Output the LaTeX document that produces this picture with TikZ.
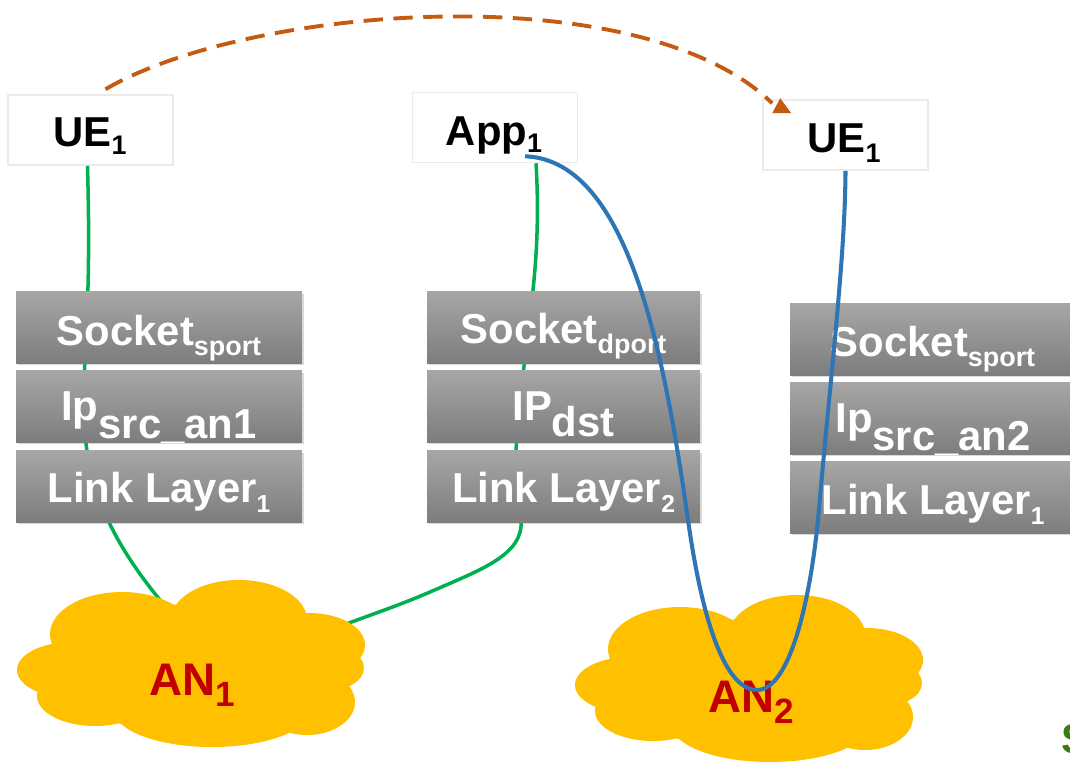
\documentclass[tikz,border=0pt]{standalone}
\usepackage{fontspec}
\setmainfont{Liberation Sans}
\usetikzlibrary{calc,shadows}
\definecolor{gtop}{HTML}{A6A6A6}
\definecolor{gbot}{HTML}{7D7D7D}
\definecolor{cloudc}{HTML}{FFC000}
\definecolor{anred}{HTML}{C00000}
\definecolor{lgreen}{HTML}{00B050}
\definecolor{lblue}{HTML}{2E75B6}
\definecolor{dorange}{HTML}{C55A11}
\definecolor{boxline}{HTML}{EBEBEB}
\definecolor{sgreen}{HTML}{3D7A14}
\newcommand{\mybig}{\fontsize{23.8}{28}\selectfont\bfseries}
\newcommand{\mysubA}{\fontsize{15.3}{16}\selectfont}
\newcommand{\myone}{\fontsize{14}{15}\selectfont}
\newcommand{\myan}{\fontsize{26}{30}\selectfont\bfseries}
\newcommand{\myansub}{\fontsize{20}{22}\selectfont}
\tikzset{
  cloudshape/.pic={
    \fill[cloudfill] (178,88) ellipse [x radius=152, y radius=64];
    \fill[cloudfill] (222,40) ellipse [x radius=68, y radius=40];
    \fill[cloudfill] (105,54) ellipse [x radius=72, y radius=42];
    \fill[cloudfill] (55,90) ellipse [x radius=55, y radius=28];
    \fill[cloudfill] (78,116) ellipse [x radius=58, y radius=30];
    \fill[cloudfill] (195,130) ellipse [x radius=98, y radius=37];
    \fill[cloudfill] (290,122) ellipse [x radius=48, y radius=33];
    \fill[cloudfill] (292,65) ellipse [x radius=56, y radius=32];
    \fill[cloudfill] (305,88) ellipse [x radius=42, y radius=24];
  }
}
\begin{document}
\begin{tikzpicture}[x=0.02cm,y=-0.02cm,
  whitebox/.style={draw=boxline, line width=0.9pt, fill=white, minimum width=3.3cm, minimum height=1.4cm, inner sep=0pt},
  layerbox/.style={top color=gtop, bottom color=gbot, draw=none, minimum height=1.43cm, inner sep=0pt,
     drop shadow={opacity=0.3, shadow xshift=1.2pt, shadow yshift=-1.2pt}},
  lbl/.style={text=white, font=\mybig, anchor=base, inner sep=0pt},
  blk/.style={text=black, font=\mybig, anchor=base, inner sep=0pt},
  anlbl/.style={text=anred, font=\myan, anchor=base, inner sep=0pt},
  gline/.style={draw=lgreen, line width=2pt},
  bline/.style={draw=lblue, line width=2.3pt},
  oline/.style={draw=dorange, line width=2.2pt, dash pattern=on 11pt off 6pt},
  cloudfill/.style={fill=cloudc, draw=none},
]
\useasboundingbox (0,0) rectangle (1070,761);
\clip (0,0) rectangle (1070,761);

% top white boxes
\node[whitebox] (ueL) at (90.5,130) {};
\node[whitebox] (app) at (495,127.5) {};
\node[whitebox] (ueR) at (845.5,135) {};

% green connectors (behind stacks and clouds)
\coordinate (an1a) at (170,612);
\coordinate (an1b) at (330,630);
\draw[gline] ($(ueL.south)+(-3,0)$) .. controls (90,260) and (88,300) .. (84,380)
   .. controls (80,470) and (100,530) .. (an1a);
\draw[gline] ($(app.south)+(41,0)$) .. controls (540,230) and (535,280) .. (527,340)
   .. controls (518,420) and (510,470) .. (521,520)
   .. controls (524,555) and (480,570) .. (430,592)
   .. controls (400,605) and (370,615) .. (an1b);

% stacks
\node[layerbox, minimum width=5.72cm] (l1) at (159,327.5) {};
\node[layerbox, minimum width=5.72cm] (l2) at (159,406.5) {};
\node[layerbox, minimum width=5.72cm] (l3) at (159,486.5) {};
\node[layerbox, minimum width=5.46cm] (m1) at (563.5,327.5) {};
\node[layerbox, minimum width=5.46cm] (m2) at (563.5,406.5) {};
\node[layerbox, minimum width=5.46cm] (m3) at (563.5,486.5) {};
\node[layerbox, minimum width=5.72cm] (r1) at (933,339.5) {};
\node[layerbox, minimum width=5.72cm] (r2) at (933,418.5) {};
\node[layerbox, minimum width=5.72cm] (r3) at (933,497.5) {};

\node[lbl] (tl1) at (159,345) {Socket\raisebox{-5.7pt}{\mysubA sport}};
\node[lbl] (tl2) at (159,420) {Ip\raisebox{-10.8pt}{src\_an1}};
\node[lbl] (tl3) at (159,502) {Link Layer\raisebox{-5.7pt}{\myone 1}};
\node[lbl] (tm1) at (563.5,343) {Socket\raisebox{-5.7pt}{\mysubA dport}};
\node[lbl] (tm2) at (563.5,420) {IP\raisebox{-9.6pt}{dst}};
\node[lbl] (tm3) at (563.5,502) {Link Layer\raisebox{-5.7pt}{\myone 2}};
\node[lbl] (tr1) at (933,356) {Socket\raisebox{-5.7pt}{\mysubA sport}};
\node[lbl] (tr2) at (933,432) {Ip\raisebox{-10.8pt}{src\_an2}};
\node[lbl] (tr3) at (933,514) {Link Layer\raisebox{-5.7pt}{\myone 1}};

% clouds
\pic at (17,580) {cloudshape};
\pic at (575,595) {cloudshape};
\node[anlbl] (an1) at (192,695) {AN\raisebox{-6.8pt}{\myansub 1}};
\node[anlbl] (an2) at (751.5,712) {AN\raisebox{-6.3pt}{\myansub 2}};

% box labels
\node[blk] (ueLt) at (90,146) {UE\raisebox{-5.1pt}{\mysubA 1}};
\node[blk] (appt) at (494,145) {App\raisebox{-4pt}{\mysubA 1}};
\node[blk] (ueRt) at (844,152) {UE\raisebox{-5.7pt}{\mysubA 1}};

% blue connector
\coordinate (bot) at (757,690);
\draw[bline] ($(app.south)+(30,-7)$) .. controls (630,160) and (665,360) .. (688,520)
  .. controls (705,640) and (730,690) .. (bot)
  .. controls (790,690) and (810,600) .. (818,520)
  .. controls (830,380) and (845,260) .. (ueR.south);

% dashed orange arrow
\coordinate (tipbase) at ($(ueR.north west)+(16,14)$);
\draw[oline] ($(ueL.north)+(15,-5)$) .. controls (250,5) and (640,-25) .. ($(tipbase)+(-6,-10)$);
\fill[dorange] ($(ueR.north west)+(18,-1)$) -- ($(ueR.north west)+(10,14)$) -- ($(ueR.north west)+(29,14)$) -- cycle;

\node[text=sgreen, font=\mybig, anchor=base west, inner sep=0pt] (sx) at (1061,753) {S};
\end{tikzpicture}
\end{document}
